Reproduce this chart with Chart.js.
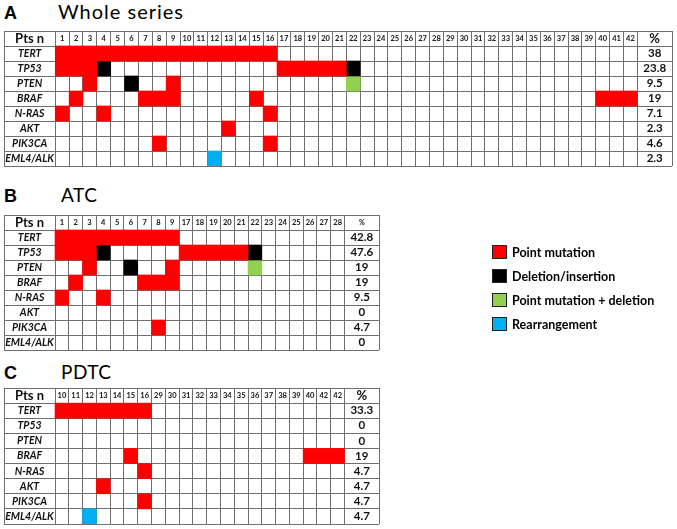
<!DOCTYPE html>
<html>
<head>
<meta charset="utf-8">
<script src="https://cdn.jsdelivr.net/npm/chart.js@4.4.0/dist/chart.umd.min.js"></script>
<style>
  body { margin: 0; width: 677px; height: 529px; background: #fff; position: relative; overflow: hidden; }
  canvas { position: absolute; left: 0; }
  .letter { position: absolute; left: 4px; font: bold 18px "Liberation Sans", Arial, sans-serif; line-height: 18px; }
  .title { position: absolute; left: 61px; font: 19px Lato, sans-serif; line-height: 19px; letter-spacing: 0.5px; }
  #legend { position: absolute; left: 492px; top: 245px; font: bold 12.5px Lato, sans-serif; }
  #legend div { height: 13px; margin-bottom: 11px; white-space: nowrap; }
  #legend span { display: inline-block; width: 13px; height: 12px; border: 1px solid #222; vertical-align: top; margin-right: 5px; }
</style>
</head>
<body>
<div class="letter" style="top:4px">A</div><div class="title" style="top:1px;left:58px;font-size:20px;line-height:20px;letter-spacing:1px">Whole series</div>
<div class="letter" style="top:187px">B</div><div class="title" style="top:185px">ATC</div>
<div class="letter" style="top:364px">C</div><div class="title" style="top:362px">PDTC</div>
<canvas id="tableA" width="677" height="138" style="top:30px"></canvas>
<canvas id="tableB" width="677" height="138" style="top:214px"></canvas>
<canvas id="tableC" width="677" height="139" style="top:387px"></canvas>
<div id="legend"></div>
<script>
var genes = ['TERT', 'TP53', 'PTEN', 'BRAF', 'N-RAS', 'AKT', 'PIK3CA', 'EML4/ALK'];
var typeNames = ['Point mutation', 'Deletion/insertion', 'Point mutation + deletion', 'Rearrangement'];
var typeColors = ['#ff0000', '#000000', '#92d050', '#00b0f0'];

// A - whole series. cells are [gene, columns], columns counted from 1
var ptsA = ['1', '2', '3', '4', '5', '6', '7', '8', '9', '10', '11', '12', '13', '14', '15', '16', '17', '18', '19', '20', '21',
  '22', '23', '24', '25', '26', '27', '28', '29', '30', '31', '32', '33', '34', '35', '36', '37', '38', '39', '40', '41', '42'];
var pctA = ['38', '23.8', '9.5', '19', '7.1', '2.3', '4.6', '2.3'];
var pointA = [['TERT', [1, 2, 3, 4, 5, 6, 7, 8, 9, 10, 11, 12, 13, 14, 15, 16]], ['TP53', [1, 2, 3, 17, 18, 19, 20, 21]],
  ['PTEN', [3, 9]], ['BRAF', [2, 7, 8, 9, 15, 40, 41, 42]], ['N-RAS', [1, 4, 16]], ['AKT', [13]], ['PIK3CA', [8, 16]]];
var delA = [['TP53', [4, 22]], ['PTEN', [6]]];
var pointDelA = [['PTEN', [22]]];
var rearrA = [['EML4/ALK', [12]]];

// B - ATC
var ptsB = ['1', '2', '3', '4', '5', '6', '7', '8', '9', '17', '18', '19', '20', '21', '22', '23', '24', '25', '26', '27', '28'];
var pctB = ['42.8', '47.6', '19', '19', '9.5', '0', '4.7', '0'];
var pointB = [['TERT', [1, 2, 3, 4, 5, 6, 7, 8, 9]], ['TP53', [1, 2, 3, 10, 11, 12, 13, 14]], ['PTEN', [3, 9]],
  ['BRAF', [2, 7, 8, 9]], ['N-RAS', [1, 4]], ['PIK3CA', [8]]];
var delB = [['TP53', [4, 15]], ['PTEN', [6]]];
var pointDelB = [['PTEN', [15]]];
var rearrB = [];

// C - PDTC
var ptsC = ['10', '11', '12', '13', '14', '15', '16', '29', '30', '31', '32', '33', '34', '35', '36', '37', '38', '39', '40', '42', '42'];
var pctC = ['33.3', '0', '0', '19', '4.7', '4.7', '4.7', '4.7'];
var pointC = [['TERT', [1, 2, 3, 4, 5, 6, 7]], ['BRAF', [6, 19, 20, 21]], ['N-RAS', [7]], ['AKT', [4]], ['PIK3CA', [7]]];
var delC = [];
var pointDelC = [];
var rearrC = [['EML4/ALK', [3]]];

var labelW = 3.7;   // gene name column, in cell widths
var pctW = 2.5;     // % column
var lineColor = '#6f6f6f';

function cells(list) {
  var out = [];
  list.forEach(function (g) {
    var row = genes.indexOf(g[0]) + 1;
    g[1].forEach(function (c) {
      out.push({x: c - 0.5, y: [row, row + 1]});
    });
  });
  return out;
}

var tableText = {
  id: 'tableText',
  afterDraw: function (chart, args, opts) {
    var ctx = chart.ctx, xs = chart.scales.x, ys = chart.scales.y;
    var n = opts.pts.length;
    function mid(r) { return ys.getPixelForValue(r + 0.5); }
    ctx.save();
    ctx.fillStyle = '#111';
    ctx.textAlign = 'center';
    ctx.textBaseline = 'middle';
    ctx.font = 'bold 13px Lato';
    ctx.fillText('Pts n', xs.getPixelForValue(-labelW / 2), mid(0));
    ctx.font = 'bold ' + opts.pctHead + 'px Lato';
    ctx.fillText('%', xs.getPixelForValue(n + pctW / 2), mid(0));
    ctx.font = 'bold 7.5px Lato';
    opts.pts.forEach(function (p, i) {
      ctx.fillText(p, xs.getPixelForValue(i + 0.5), mid(0));
    });
    ctx.font = 'italic bold 10.5px Lato';
    genes.forEach(function (g, i) {
      ctx.fillText(g, xs.getPixelForValue(-labelW / 2), mid(i + 1));
    });
    ctx.font = 'bold 11.5px Lato';
    opts.pct.forEach(function (p, i) {
      ctx.fillText(p, xs.getPixelForValue(n + pctW / 2), mid(i + 1));
    });
    ctx.restore();
  }
};

function makeTable(id, pts, pct, groups, pad, pctHead) {
  var n = pts.length;
  var edges = [-labelW];
  for (var i = 0; i <= n; i++) edges.push(i);
  edges.push(n + pctW);
  return new Chart(document.getElementById(id), {
    type: 'bar',
    data: {
      datasets: groups.map(function (g, k) {
        return {
          label: typeNames[k],
          data: cells(g),
          backgroundColor: typeColors[k],
          borderWidth: 0,
          grouped: false,
          barPercentage: 1,
          categoryPercentage: 1
        };
      })
    },
    options: {
      responsive: false,
      animation: false,
      layout: {padding: pad},
      scales: {
        x: {
          type: 'linear', min: -labelW, max: n + pctW, offset: false,
          afterBuildTicks: function (s) { s.ticks = edges.map(function (v) { return {value: v}; }); },
          ticks: {display: false},
          grid: {color: lineColor, lineWidth: 1, drawTicks: false, offset: false},
          border: {display: false}
        },
        y: {
          type: 'linear', min: 0, max: 9, reverse: true,
          ticks: {display: false, stepSize: 1},
          grid: {color: lineColor, lineWidth: 1, drawTicks: false},
          border: {display: false}
        }
      },
      plugins: {
        legend: {display: false},
        tooltip: {enabled: false},
        tableText: {pts: pts, pct: pct, pctHead: pctHead}
      }
    },
    plugins: [tableText]
  });
}

makeTable('tableA', ptsA, pctA, [pointA, delA, pointDelA, rearrA], {left: 4, right: 5, top: 1, bottom: 2}, 13);
var chartB = makeTable('tableB', ptsB, pctB, [pointB, delB, pointDelB, rearrB], {left: 4, right: 298, top: 1, bottom: 2}, 7);
makeTable('tableC', ptsC, pctC, [pointC, delC, pointDelC, rearrC], {left: 4, right: 298, top: 1, bottom: 2}, 13);

// html legend from panel B datasets
var legendBox = document.getElementById('legend');
chartB.data.datasets.forEach(function (ds) {
  var item = document.createElement('div');
  var sw = document.createElement('span');
  sw.style.background = ds.backgroundColor;
  item.appendChild(sw);
  item.appendChild(document.createTextNode(ds.label));
  legendBox.appendChild(item);
});
</script>
</body>
</html>
